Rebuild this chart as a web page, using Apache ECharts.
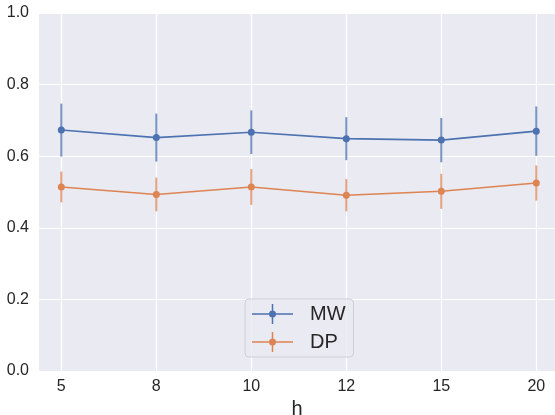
<!DOCTYPE html>
<html>
<head>
<meta charset="utf-8">
<script src="https://cdn.jsdelivr.net/npm/echarts@6/dist/echarts.min.js"></script>
<style>
html,body{margin:0;padding:0;background:#fff;}
#chart{width:555px;height:415px;}
</style>
</head>
<body>
<div id="chart"></div>
<script>
// Data
const hValues = ['5', '8', '10', '12', '15', '20'];
const mwMean = [0.673, 0.652, 0.667, 0.649, 0.645, 0.670];
const mwErr  = [0.074, 0.067, 0.061, 0.060, 0.062, 0.069];
const dpMean = [0.514, 0.493, 0.514, 0.491, 0.502, 0.525];
const dpErr  = [0.043, 0.047, 0.050, 0.045, 0.049, 0.049];
const yTicks = [0, 0.2, 0.4, 0.6, 0.8, 1.0];

const BLUE = '#4C72B0';
const ORANGE = '#DD8452';
const FONT = 'Liberation Sans, Arial, sans-serif';

function pts(arr) { return arr.map((v, i) => [i, v]); }
function errData(mean, err) { return mean.map((v, i) => [i, v - err[i], v + err[i]]); }

function errRender(color) {
  return function (params, api) {
    const x = api.value(0);
    const lo = api.coord([x, api.value(1)]);
    const hi = api.coord([x, api.value(2)]);
    return {
      type: 'line',
      shape: { x1: lo[0], y1: lo[1], x2: hi[0], y2: hi[1] },
      style: { stroke: color, lineWidth: 2, opacity: 0.75 }
    };
  };
}

const legendIcon = 'path://M0 9.25 H41 V10.75 H0 Z M19.75 0 H21.25 V20 H19.75 Z M17 10 A3.5 3.5 0 1 1 24 10 A3.5 3.5 0 1 1 17 10 Z';

const chart = echarts.init(document.getElementById('chart'));
chart.setOption({
  animation: false,
  backgroundColor: '#ffffff',
  grid: {
    left: 39, right: 0, top: 13, bottom: 44,
    outerBoundsMode: 'none', containLabel: false,
    show: true, backgroundColor: '#EAEAF2', borderWidth: 0
  },
  xAxis: {
    type: 'value',
    min: -0.235, max: 5.197,
    name: 'h', nameLocation: 'middle', nameGap: 24,
    nameTextStyle: { fontFamily: FONT, fontSize: 20, color: '#262626' },
    axisLine: { show: false },
    axisTick: { show: false, customValues: [0, 1, 2, 3, 4, 5] },
    axisLabel: {
      customValues: [0, 1, 2, 3, 4, 5],
      formatter: v => hValues[Math.round(v)],
      fontFamily: FONT, fontSize: 16, color: '#262626', margin: 8
    },
    splitLine: { show: true, lineStyle: { color: '#ffffff', width: 1.2 } }
  },
  yAxis: {
    type: 'value',
    min: 0, max: 1, interval: 0.2,
    axisLine: { show: false },
    axisTick: { show: false },
    axisLabel: {
      formatter: v => v.toFixed(1),
      fontFamily: FONT, fontSize: 16, color: '#262626', margin: 10
    },
    splitLine: { show: true, lineStyle: { color: '#ffffff', width: 1.2 } }
  },
  legend: {
    data: [
      { name: 'MW', icon: legendIcon },
      { name: 'DP', icon: legendIcon }
    ],
    orient: 'vertical',
    left: 245, top: 299,
    itemWidth: 41, itemHeight: 20, itemGap: 8,
    padding: [5, 8, 5, 7],
    backgroundColor: 'rgba(234,234,242,0.8)',
    borderColor: '#cfcfd6', borderWidth: 1, borderRadius: 4,
    textStyle: { fontFamily: FONT, fontSize: 20, color: '#262626', padding: [0, 0, 0, 12] }
  },
  series: [
    {
      name: 'MW', type: 'line', data: pts(mwMean), color: BLUE,
      symbol: 'circle', symbolSize: 7,
      lineStyle: { width: 1.6, color: BLUE }, itemStyle: { color: BLUE }, z: 3
    },
    {
      name: 'DP', type: 'line', data: pts(dpMean), color: ORANGE,
      symbol: 'circle', symbolSize: 7,
      lineStyle: { width: 1.6, color: ORANGE }, itemStyle: { color: ORANGE }, z: 3
    },
    {
      name: 'MW err', type: 'custom', renderItem: errRender(BLUE),
      data: errData(mwMean, mwErr), encode: { x: 0, y: [1, 2] }, z: 2, silent: true
    },
    {
      name: 'DP err', type: 'custom', renderItem: errRender(ORANGE),
      data: errData(dpMean, dpErr), encode: { x: 0, y: [1, 2] }, z: 2, silent: true
    }
  ]
});
</script>
</body>
</html>
